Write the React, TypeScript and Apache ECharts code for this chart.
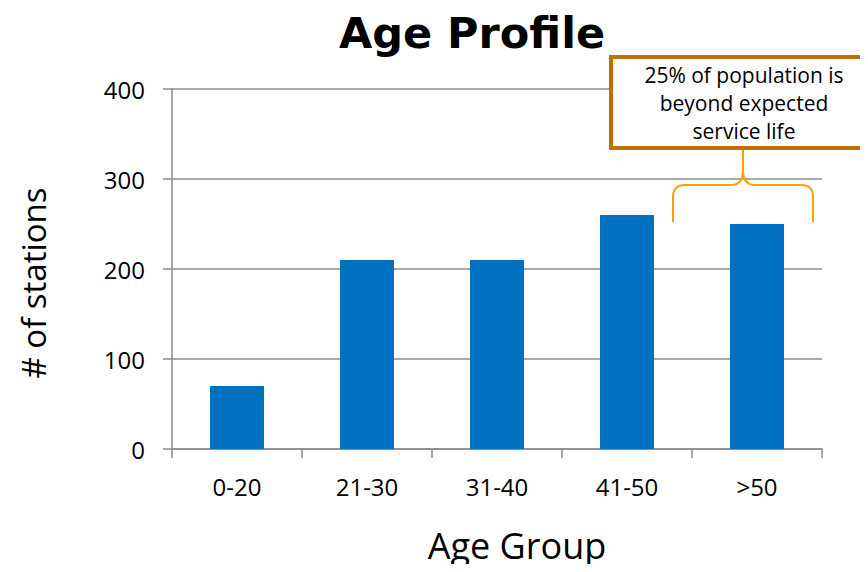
import React, { useEffect, useRef } from "react";
import * as echarts from "echarts";

const categories = ["0-20", "21-30", "31-40", "41-50", ">50"];
const stationCounts = [70, 210, 210, 260, 250];
const yTicks = [0, 100, 200, 300, 400];
const noteLines = ["25% of population is", "beyond expected", "service life"];
const xTitle = "Age Group";
const yTitle = "# of stations";

const FONT = "'Open Sans', sans-serif";
const TITLE_FONT = "'DejaVu Sans', sans-serif";
const BRACE =
  "M673,222 L673,197 Q673,185 685,185 L731,185 Q743,185 743,170 L743,150 M743,170 Q743,185 755,185 L801,185 Q813,185 813,197 L813,222";

let registered = false;

export default function App() {
  const ref = useRef<HTMLDivElement>(null);
  useEffect(() => {
    if (!ref.current) return;
    if (!registered) {
      echarts.graphic.registerShape("brace", echarts.graphic.extendPath(BRACE, {}) as any);
      registered = true;
    }
    const chart = echarts.init(ref.current, undefined, { renderer: "svg" });
    const noteTexts = noteLines.map((line, i) => ({
      type: "text",
      z: 11,
      x: 744,
      y: 75 + i * 28,
      style: {
        text: line,
        fontFamily: FONT,
        fontWeight: 400,
        fontSize: 21,
        align: "center",
        verticalAlign: "middle",
        fill: "#000",
      },
    }));
    chart.setOption({
      animation: false,
      backgroundColor: "#ffffff",
      title: {
        text: "Age Profile",
        left: 467,
        textAlign: "center",
        top: 6,
        textStyle: { fontFamily: TITLE_FONT, fontWeight: "bold", fontSize: 43, color: "#000" },
      },
      grid: { left: 172, right: 46, top: 89, bottom: 123, containLabel: false },
      xAxis: {
        type: "category",
        data: categories,
        axisLine: { lineStyle: { color: "#8c8c8c", width: 1.5 } },
        axisTick: { show: true, length: 9, lineStyle: { color: "#8c8c8c", width: 1.5 } },
        axisLabel: { margin: 25, fontFamily: FONT, fontWeight: 400, fontSize: 24, color: "#000" },
      },
      yAxis: {
        type: "value",
        min: yTicks[0],
        max: yTicks[yTicks.length - 1],
        interval: 100,
        axisLine: { show: true, lineStyle: { color: "#8c8c8c", width: 1.5 } },
        axisTick: { show: true, length: 9, lineStyle: { color: "#8c8c8c", width: 1.5 } },
        axisLabel: { margin: 27, fontFamily: FONT, fontWeight: 400, fontSize: 24, color: "#000" },
        splitLine: { lineStyle: { color: "#8c8c8c", width: 1.5 } },
      },
      series: [
        {
          type: "bar",
          data: stationCounts,
          barWidth: 54,
          itemStyle: { color: "#0070C0" },
        },
      ],
      graphic: [
        {
          type: "text",
          x: 517,
          y: 545,
          style: {
            text: xTitle,
            fontFamily: FONT,
            fontWeight: 400,
            fontSize: 36,
            align: "center",
            verticalAlign: "middle",
            fill: "#000",
          },
        },
        {
          type: "text",
          x: 33,
          y: 283,
          rotation: Math.PI / 2,
          style: {
            text: yTitle,
            fontFamily: FONT,
            fontWeight: 400,
            fontSize: 33,
            align: "center",
            verticalAlign: "middle",
            fill: "#000",
          },
        },
        {
          type: "brace",
          x: 0,
          y: 0,
          z: 10,
          style: { stroke: "#FFA000", lineWidth: 2, fill: null },
        },
        {
          type: "rect",
          z: 10,
          shape: { x: 611, y: 57, width: 262, height: 91 },
          style: { fill: "#ffffff", stroke: "#C07000", lineWidth: 4 },
        },
        ...noteTexts,
      ],
    });
    return () => chart.dispose();
  }, []);
  return <div ref={ref} style={{ width: 868, height: 572, margin: -8 }} />;
}
